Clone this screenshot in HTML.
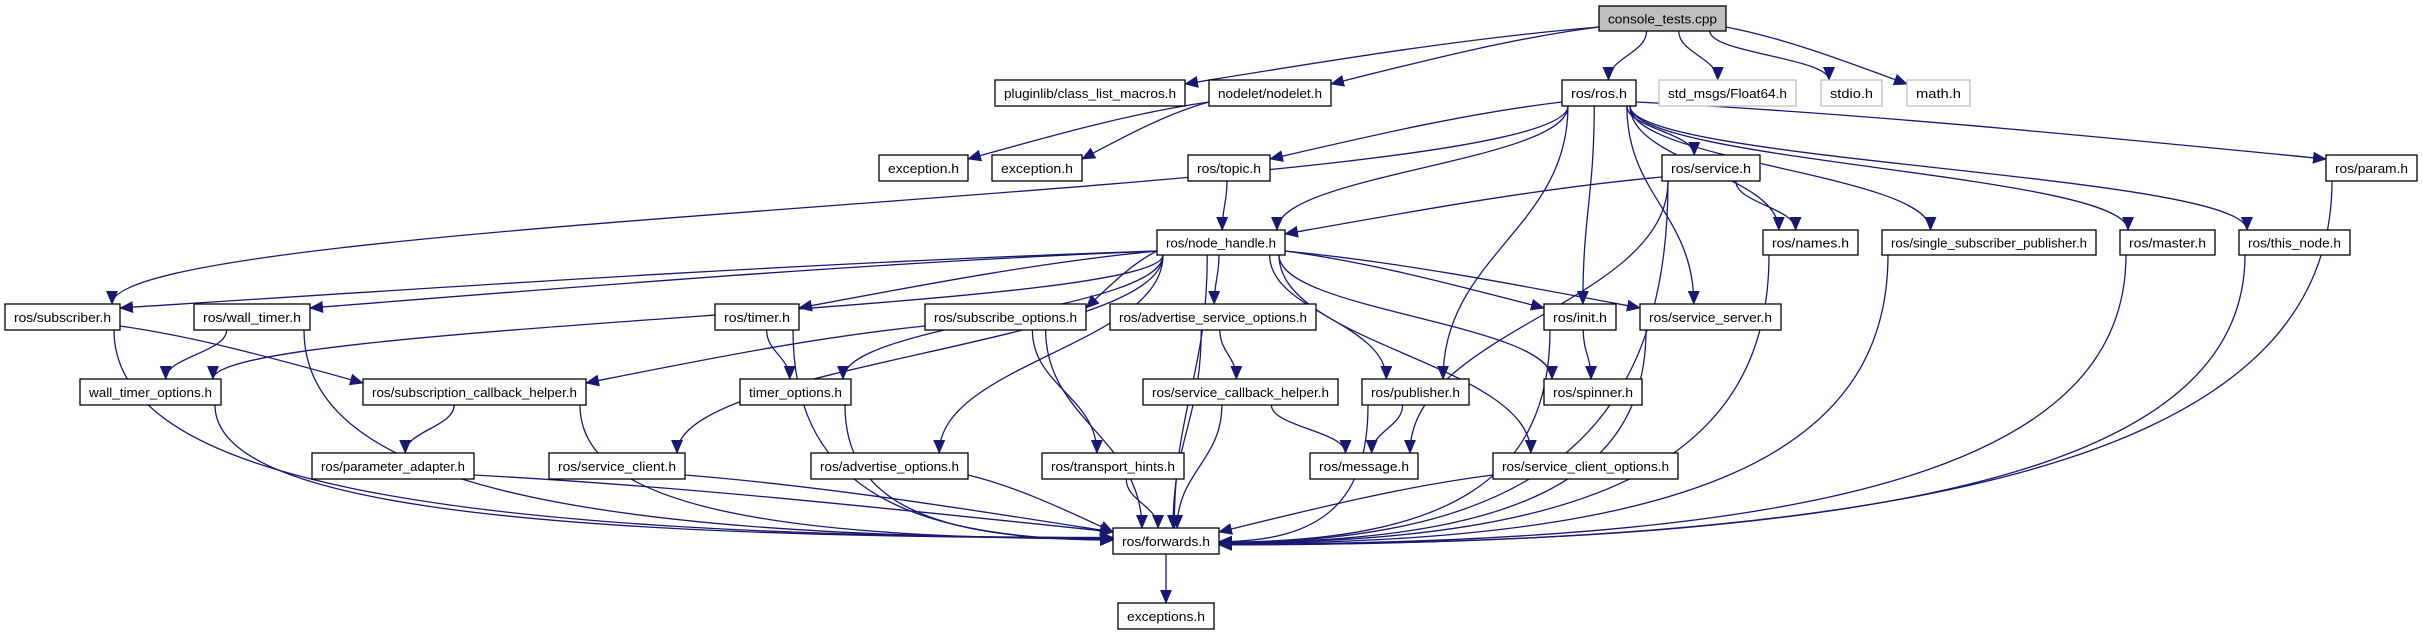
<!DOCTYPE html>
<html><head><meta charset="utf-8"><style>
html,body{margin:0;padding:0;background:#fff;}
svg{display:block;}
text{font-family:"Liberation Sans",sans-serif;font-size:13px;fill:#000;}
</style></head><body>
<svg id="g" xmlns="http://www.w3.org/2000/svg" width="2423" height="635" viewBox="0 0 2423 635">
<defs><marker id="a" markerUnits="userSpaceOnUse" markerWidth="14" markerHeight="12" refX="13" refY="6" orient="auto"><path d="M0,0 L14,6 L0,12 z" fill="#191970"/></marker></defs>
<g id="e" fill="none" stroke="#191970" stroke-width="1.3"></g>
<g id="n"></g>
</svg>
<script>
var N={
ct:[1599,6,1726,31,"console_tests.cpp","g"],
pl:[995,80,1185,106,"pluginlib/class_list_macros.h"],
nd:[1209,80,1331,106,"nodelet/nodelet.h"],
ros:[1562,80,1636,106,"ros/ros.h"],
f64:[1659,80,1796,106,"std_msgs/Float64.h","l"],
sio:[1821,80,1882,106,"stdio.h","l"],
mat:[1907,80,1970,106,"math.h","l"],
ex1:[879,155,968,181,"exception.h"],
ex2:[992,155,1082,181,"exception.h"],
top:[1188,155,1270,181,"ros/topic.h"],
srv:[1662,155,1760,181,"ros/service.h"],
par:[2326,155,2417,181,"ros/param.h"],
nh:[1157,230,1285,255,"ros/node_handle.h"],
nam:[1763,230,1858,255,"ros/names.h"],
ssp:[1882,230,2096,255,"ros/single_subscriber_publisher.h"],
mas:[2120,230,2215,255,"ros/master.h"],
thn:[2239,230,2350,255,"ros/this_node.h"],
sub:[5,304,120,330,"ros/subscriber.h"],
wt:[194,304,310,330,"ros/wall_timer.h"],
tim:[715,304,799,330,"ros/timer.h"],
so:[925,304,1086,330,"ros/subscribe_options.h"],
aso:[1110,304,1316,330,"ros/advertise_service_options.h"],
ini:[1544,304,1616,330,"ros/init.h"],
ss:[1640,304,1781,330,"ros/service_server.h"],
wto:[80,379,221,405,"wall_timer_options.h"],
sch:[363,379,586,405,"ros/subscription_callback_helper.h"],
to:[740,379,851,405,"timer_options.h"],
sech:[1143,379,1338,405,"ros/service_callback_helper.h"],
pub:[1362,379,1469,405,"ros/publisher.h"],
spn:[1544,379,1642,405,"ros/spinner.h"],
pa:[312,453,474,479,"ros/parameter_adapter.h"],
sc:[549,453,685,479,"ros/service_client.h"],
ao:[811,453,968,479,"ros/advertise_options.h"],
th:[1042,453,1184,479,"ros/transport_hints.h"],
msg:[1310,453,1418,479,"ros/message.h"],
sco:[1493,453,1678,479,"ros/service_client_options.h"],
fw:[1113,528,1219,554,"ros/forwards.h"],
exs:[1118,603,1214,629,"exceptions.h"]
};
var E="ct pl,ct nd,ct ros,ct f64,ct sio,ct mat,nd ex1,nd ex2,ros sub,ros top,ros nh,ros srv,ros nam,ros ssp,ros mas,ros thn,ros par,ros ini,ros pub,ros ss,top nh,srv nh,srv nam,srv msg,srv fw,nh sub,nh wt,nh wto,nh tim,nh to,nh so,nh aso,nh ao,nh sc,nh pub,nh sco,nh ini,nh spn,nh ss,nh fw,sub sch,sub fw,wt wto,wt fw,wto fw,tim to,tim fw,to fw,so sch,so th,so fw,sch pa,sch fw,pa fw,sc fw,ao fw,th fw,aso sech,aso fw,sech msg,sech fw,pub msg,pub fw,ini spn,ini fw,ss fw,sco fw,nam fw,ssp fw,mas fw,thn fw,par fw,fw exs".split(",");
var ns="http://www.w3.org/2000/svg",eg=document.getElementById("e"),ng=document.getElementById("n");
function cx(n){return (n[0]+n[2])/2;}
E.forEach(function(s){
 var p=s.split(" "),a=N[p[0]],b=N[p[1]];
 var ax=cx(a),bx=cx(b),d;
 var sx=Math.max(a[0]+6,Math.min(a[2]-6,ax+(bx-ax)*0.25)),sy=a[3];
 var tx,ty,dy=b[1]-a[3];
 if(Math.abs(bx-ax)>4*Math.max(dy,20)&&dy<60){
   sy=a[3]-4; sx=bx<ax?a[0]:a[2];
   tx=bx<ax?b[2]:b[0]; ty=b[1]+4;
   d="M"+sx+","+sy+" C"+(sx+(tx-sx)*0.33)+","+(sy+(ty-sy)*0.2)+" "+(sx+(tx-sx)*0.66)+","+(sy+(ty-sy)*0.6)+" "+tx+","+ty;
 } else {
   tx=Math.max(b[0]+8,Math.min(b[2]-8,bx+(ax-bx)*0.15)); ty=b[1];
   if(p[1]=="fw"&&dy>120){
     if(ax<b[0]-150){tx=b[0];ty=541+(ax-b[0])/300;}
     else if(ax>b[2]+150){tx=b[2];ty=541+(ax-b[2])/300;}
   }
   if(ty!=b[1]){
     d="M"+sx+","+sy+" C"+sx+","+(sy+(ty-sy)*0.7)+" "+(sx+(tx-sx)*0.3)+","+ty+" "+tx+","+ty;
   } else {
     var h=(ty-sy)*0.45;
     d="M"+sx+","+sy+" C"+sx+","+(sy+h)+" "+tx+","+(ty-h)+" "+tx+","+ty;
   }
 }
 var pa=document.createElementNS(ns,"path");pa.setAttribute("d",d);pa.setAttribute("marker-end","url(#a)");eg.appendChild(pa);
});
for(var k in N){var n=N[k];
 var r=document.createElementNS(ns,"rect");
 r.setAttribute("x",n[0]);r.setAttribute("y",n[1]);r.setAttribute("width",n[2]-n[0]);r.setAttribute("height",n[3]-n[1]);
 r.setAttribute("fill",n[5]=="g"?"#bfbfbf":"#fff");r.setAttribute("stroke",n[5]=="l"?"#bfbfbf":"#000");r.setAttribute("stroke-width","1.3");
 ng.appendChild(r);
 var t=document.createElementNS(ns,"text");t.setAttribute("x",cx(n));t.setAttribute("y",(n[1]+n[3])/2+5);t.setAttribute("text-anchor","middle");
 t.setAttribute("textLength",(n[2]-n[0])-18);t.setAttribute("lengthAdjust","spacingAndGlyphs");t.textContent=n[4];ng.appendChild(t);
}
</script>
</body></html>
